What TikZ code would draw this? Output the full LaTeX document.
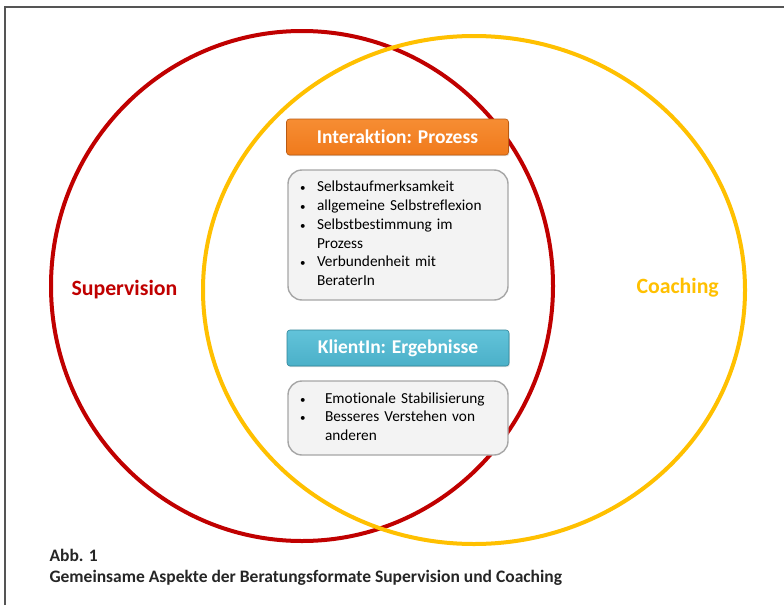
\documentclass[tikz,border=0pt]{standalone}
\usepackage{fontspec}
\setmainfont{Carlito}[Ligatures=NoCommon]
\usetikzlibrary{shadows}
\definecolor{supred}{HTML}{C00000}
\definecolor{coachyellow}{HTML}{FFC000}
\definecolor{procorange}{HTML}{F07A1C}
\definecolor{procorangetop}{HTML}{F68D33}
\definecolor{procorangeedge}{HTML}{B95A12}
\definecolor{resblue}{HTML}{4BB0C8}
\definecolor{resbluetop}{HTML}{62C3DA}
\definecolor{resblueedge}{HTML}{2F8498}
\definecolor{listfill}{HTML}{F3F3F3}
\definecolor{listedge}{HTML}{A6A6A6}
\definecolor{captiontext}{HTML}{262626}
\definecolor{frameline}{HTML}{555555}
% small list bullet
\newcommand\smallbul{\hspace*{1pt}{\fontsize{11}{11}\selectfont\textbullet}}
\begin{document}
\begin{tikzpicture}[x=1pt,y=-1pt,
  ring/.style={line width=4pt},
  headbox/.style={rounded corners=3pt, minimum width=222pt, minimum height=36pt,
    text=white, font=\bfseries\fontsize{19.5}{22}\selectfont, inner sep=0pt},
  listbox/.style={draw=listedge, line width=1.4pt, fill=listfill, rounded corners=14pt,
    minimum width=220pt, align=left, text width=198pt, inner xsep=11pt,
    font=\fontsize{15.3}{18.7}\selectfont, text=black},
  setlabel/.style={font=\bfseries\fontsize{21.8}{25}\selectfont, anchor=west},
  caption/.style={font=\bfseries\fontsize{17.5}{20}\selectfont, text=captiontext, anchor=west}]
  \useasboundingbox (0,0) rectangle (784,605);
  \fill[white] (0,0) rectangle (784,605);
  % page frame
  \draw[frameline, line width=1.3pt] (5,605) -- (5,7) -- (784,7);

  % the two formats as overlapping rings
  \draw[ring, supred] (302,286) ellipse [x radius=251, y radius=255];
  \draw[ring, coachyellow] (474,290) ellipse [x radius=271, y radius=254];

  \node[setlabel, text=supred] (sup) at (68,290) {Supervision};
  \node[setlabel, text=coachyellow] (coach) at (633,288) {Coaching};

  % process aspects
  \node[headbox, top color=procorangetop, bottom color=procorange, draw=procorangeedge,
        line width=0.6pt, drop shadow={opacity=0.25, shadow xshift=0.8pt, shadow yshift=-1.2pt}]
        (proc) at (397.5,137) {Interaktion: Prozess};
  \node[listbox, minimum height=130pt] (proclist) at (398,235) {%
    \renewcommand\arraystretch{1}%
    \begin{tabular}{@{}p{18pt}@{}l@{}}
      \smallbul & Selbstaufmerksamkeit\\
      \smallbul & allgemeine Selbstreflexion\\
      \smallbul & Selbstbestimmung im\\
                & Prozess\\
      \smallbul & Verbundenheit mit\\
                & BeraterIn
    \end{tabular}};

  % client outcomes
  \node[headbox, top color=resbluetop, bottom color=resblue, draw=resblueedge,
        line width=0.6pt, drop shadow={opacity=0.25, shadow xshift=0.8pt, shadow yshift=-1.2pt}]
        (res) at (398,348) {KlientIn: Ergebnisse};
  \node[listbox, minimum height=74pt] (reslist) at (398,418) {%
    \begin{tabular}{@{}p{26pt}@{}l@{}}
      \smallbul & Emotionale Stabilisierung\\
      \smallbul & Besseres Verstehen von\\
                & anderen
    \end{tabular}};

  % figure caption
  \node[caption] (capnum) at (46,555) {Abb. 1};
  \node[caption] (captext) at (46,578) {Gemeinsame Aspekte der Beratungsformate Supervision und Coaching};
\end{tikzpicture}
\end{document}
